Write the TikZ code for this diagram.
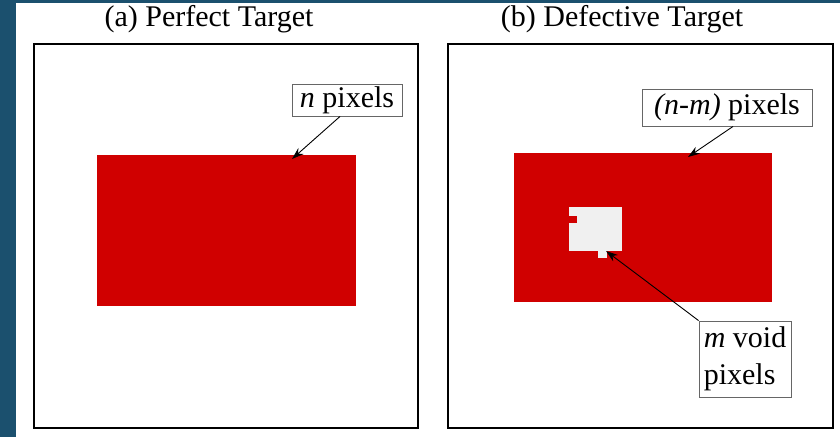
\documentclass[tikz,border=0pt]{standalone}
\usepackage{fontspec}
\setmainfont{Liberation Serif}
\usetikzlibrary{arrows.meta}
\definecolor{bgblue}{RGB}{27,80,110}
\definecolor{tred}{RGB}{208,0,0}
\definecolor{voidgray}{RGB}{240,240,240}
\tikzset{
  panel/.style={draw=black,line width=2.2pt},
  lbl/.style={draw=black!60,line width=0.9pt,fill=white,inner sep=0pt,align=left,font=\fontsize{30}{37}\selectfont},
  ttl/.style={anchor=base,inner sep=0pt,font=\fontsize{30}{36}\selectfont},
  arr/.style={draw=black,line width=0.9pt,-{Stealth[length=12pt,width=8pt]}}
}
\begin{document}
\begin{tikzpicture}[x=1pt,y=-1pt]
\useasboundingbox (0,0) rectangle (840,437);
\fill[bgblue] (0,0) rectangle (840,437);
\fill[white] (16,3) rectangle (840,437);
% titles
\node[ttl] (ta) at (209,26) {(a) Perfect Target};
\node[ttl] (tb) at (622,26) {(b) Defective Target};
% panels
\draw[panel] (34,44) rectangle (418,428);
\draw[panel] (448,44) rectangle (833,428);
% red targets
\fill[tred] (97,155) rectangle (356,306);
\fill[tred] (514,153) rectangle (772,302);
% void
\fill[voidgray] (569,207) rectangle (622,251);
\fill[voidgray] (598,250) rectangle (607,258);
\fill[tred] (569,216) rectangle (577,223);
% labels
\node[lbl,minimum width=110pt,minimum height=32pt] (npx) at (347,100) {\textit{n} pixels};
\node[lbl,minimum width=170pt,minimum height=37pt] (nmpx) at (727,107.5) {\textit{(n-m)} pixels};
\node[lbl,minimum width=92pt,minimum height=76pt] (mvpx) at (745,359) {\textit{m} void\\pixels};
\coordinate (ntip) at (292,159);
\coordinate (nmtip) at (688,157);
\coordinate (mvtip) at (606,251);
\draw[arr] ([xshift=-7pt]npx.south) -- (ntip);
\draw[arr] ([xshift=6pt]nmpx.south) -- (nmtip);
\draw[arr] (mvpx.north west) -- (mvtip);
\end{tikzpicture}
\end{document}
